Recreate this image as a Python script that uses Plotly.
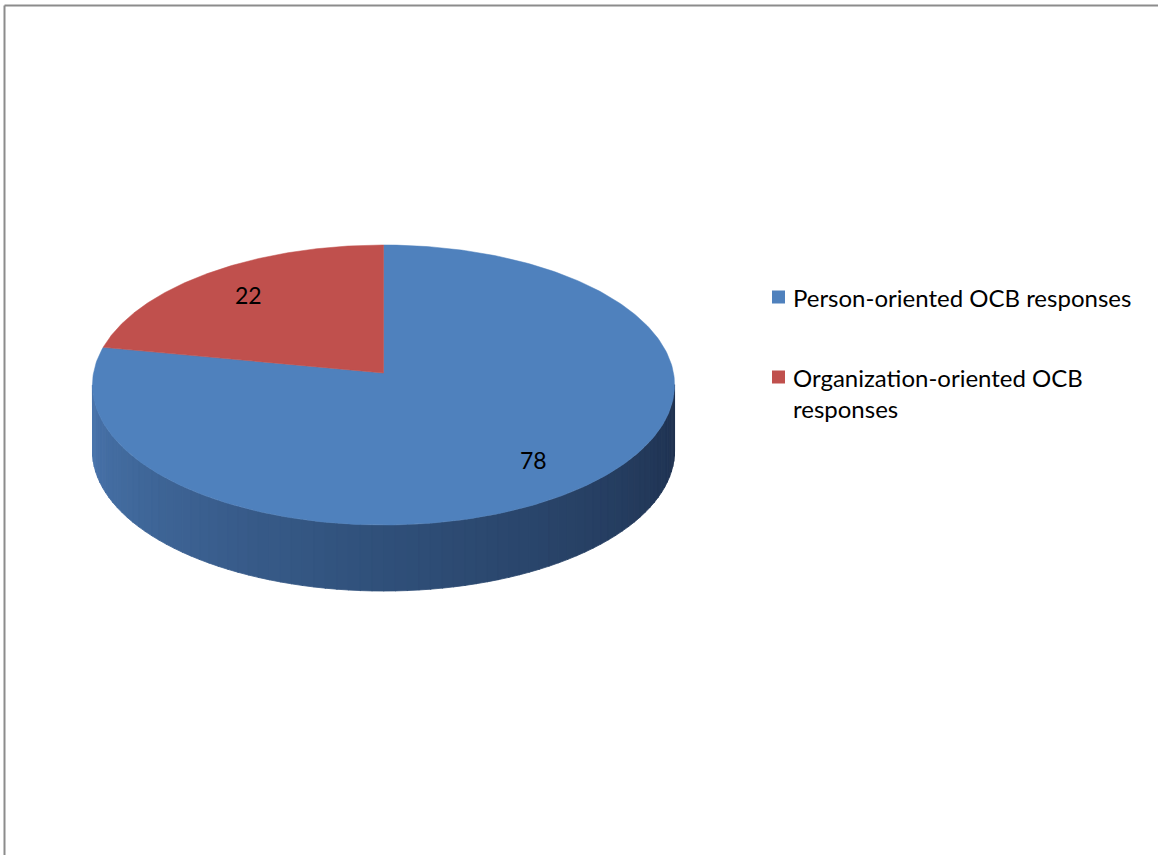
import numpy as np
import plotly.graph_objects as go

# ---- data ----
categories = ["Person-oriented OCB responses", "Organization-oriented OCB responses"]
legend_text = ["Person-oriented OCB responses", "Organization-oriented OCB<br>responses"]
values = [78, 22]
colors = ["#4F81BD", "#C0504D"]

# ---- layout constants (pixel space) ----
W, H = 1158, 855
CX, CY = 383.5, 373.0      # projected centre of the pie top
A, B, K = 290.0, 139.0, 0.0857  # horizontal radius, vertical radius, perspective
DEPTH = 66.0
FONT = "Lato"
FS = 24


def proj(theta, r=1.0, dz=0.0):
    u = r * np.cos(theta)
    v = r * np.sin(theta)
    s = 1 + K * v
    return CX + A * u / s, CY - B * v / s + dz


fig = go.Figure()

# slices: first value goes clockwise from 12 o'clock
total = float(sum(values))
start = np.pi / 2
slices = []
ang = start
for val in values:
    sweep = 2 * np.pi * val / total
    slices.append((ang - sweep, ang))
    ang -= sweep

# side (front) of the pie
t = np.linspace(np.pi * 0.9, np.pi * 2.1, 4000)
xs, _ = proj(t)
t_left = t[np.argmin(xs)]
t_right = t[np.argmax(xs)]
nseg = 80
edges = np.linspace(t_left, t_right, nseg + 1)
c_left = np.array([74, 118, 174])
c_mid = np.array([48, 80, 122])
c_right = np.array([30, 48, 78])
for i in range(nseg):
    tt = np.linspace(edges[i], edges[i + 1] + 0.002, 8)
    x1, y1 = proj(tt)
    x2, y2 = proj(tt[::-1], dz=DEPTH)
    f = (i + 0.5) / nseg
    if f < 0.5:
        c = c_left + (c_mid - c_left) * (f / 0.5)
    else:
        c = c_mid + (c_right - c_mid) * ((f - 0.5) / 0.5)
    col = "rgb(%d,%d,%d)" % tuple(c.astype(int))
    fig.add_trace(go.Scatter(
        x=np.concatenate([x1, x2, x1[:1]]), y=np.concatenate([y1, y2, y1[:1]]),
        mode="lines", fill="toself", fillcolor=col, line=dict(width=0.8, color=col),
        hoverinfo="skip", showlegend=False))

# top faces
for (a0, a1), col, cat, val in zip(slices, colors, categories, values):
    tt = np.linspace(a0, a1, 300)
    x, y = proj(tt)
    x = np.concatenate([[CX], x, [CX]])
    y = np.concatenate([[CY], y, [CY]])
    fig.add_trace(go.Scatter(x=x, y=y, mode="lines", fill="toself", fillcolor=col,
                             line=dict(width=0.5, color=col), name=cat,
                             hoverinfo="name", showlegend=False))

# value labels
LABEL_R = 0.77
for (a0, a1), val in zip(slices, values):
    mid = (a0 + a1) / 2
    lx, ly = proj(mid, r=LABEL_R)
    fig.add_annotation(x=lx, y=ly, text=str(val), showarrow=False,
                       font=dict(family=FONT, size=FS - 1, color="#000000"))

# manual legend
LEG_X, LEG_Y0, LEG_DY = 778.5, 297, 80
for i, (txt, col) in enumerate(zip(legend_text, colors)):
    y = LEG_Y0 + i * LEG_DY
    fig.add_trace(go.Scatter(x=[LEG_X], y=[y], mode="markers",
                             marker=dict(symbol="square", size=13, color=col),
                             hoverinfo="skip", showlegend=False))
    fig.add_annotation(x=LEG_X + 12, y=y - 16, text=txt, showarrow=False,
                       xanchor="left", yanchor="top", align="left",
                       font=dict(family=FONT, size=FS, color="#000000"))

# frame lines (top and left)
fig.add_shape(type="line", x0=4.5, y0=5.5, x1=W, y1=5.5, line=dict(color="#8c8c8c", width=2))
fig.add_shape(type="line", x0=4.5, y0=5.5, x1=4.5, y1=H, line=dict(color="#8c8c8c", width=2))

fig.update_layout(
    width=W, height=H, margin=dict(l=0, r=0, t=0, b=0),
    paper_bgcolor="white", plot_bgcolor="white",
    xaxis=dict(range=[0, W], visible=False, fixedrange=True),
    yaxis=dict(range=[H, 0], visible=False, fixedrange=True),
    showlegend=False,
)
fig.write_html("out.html", config={"displayModeBar": False},
               post_script="document.body.style.margin='0';document.body.style.overflow='hidden';")
